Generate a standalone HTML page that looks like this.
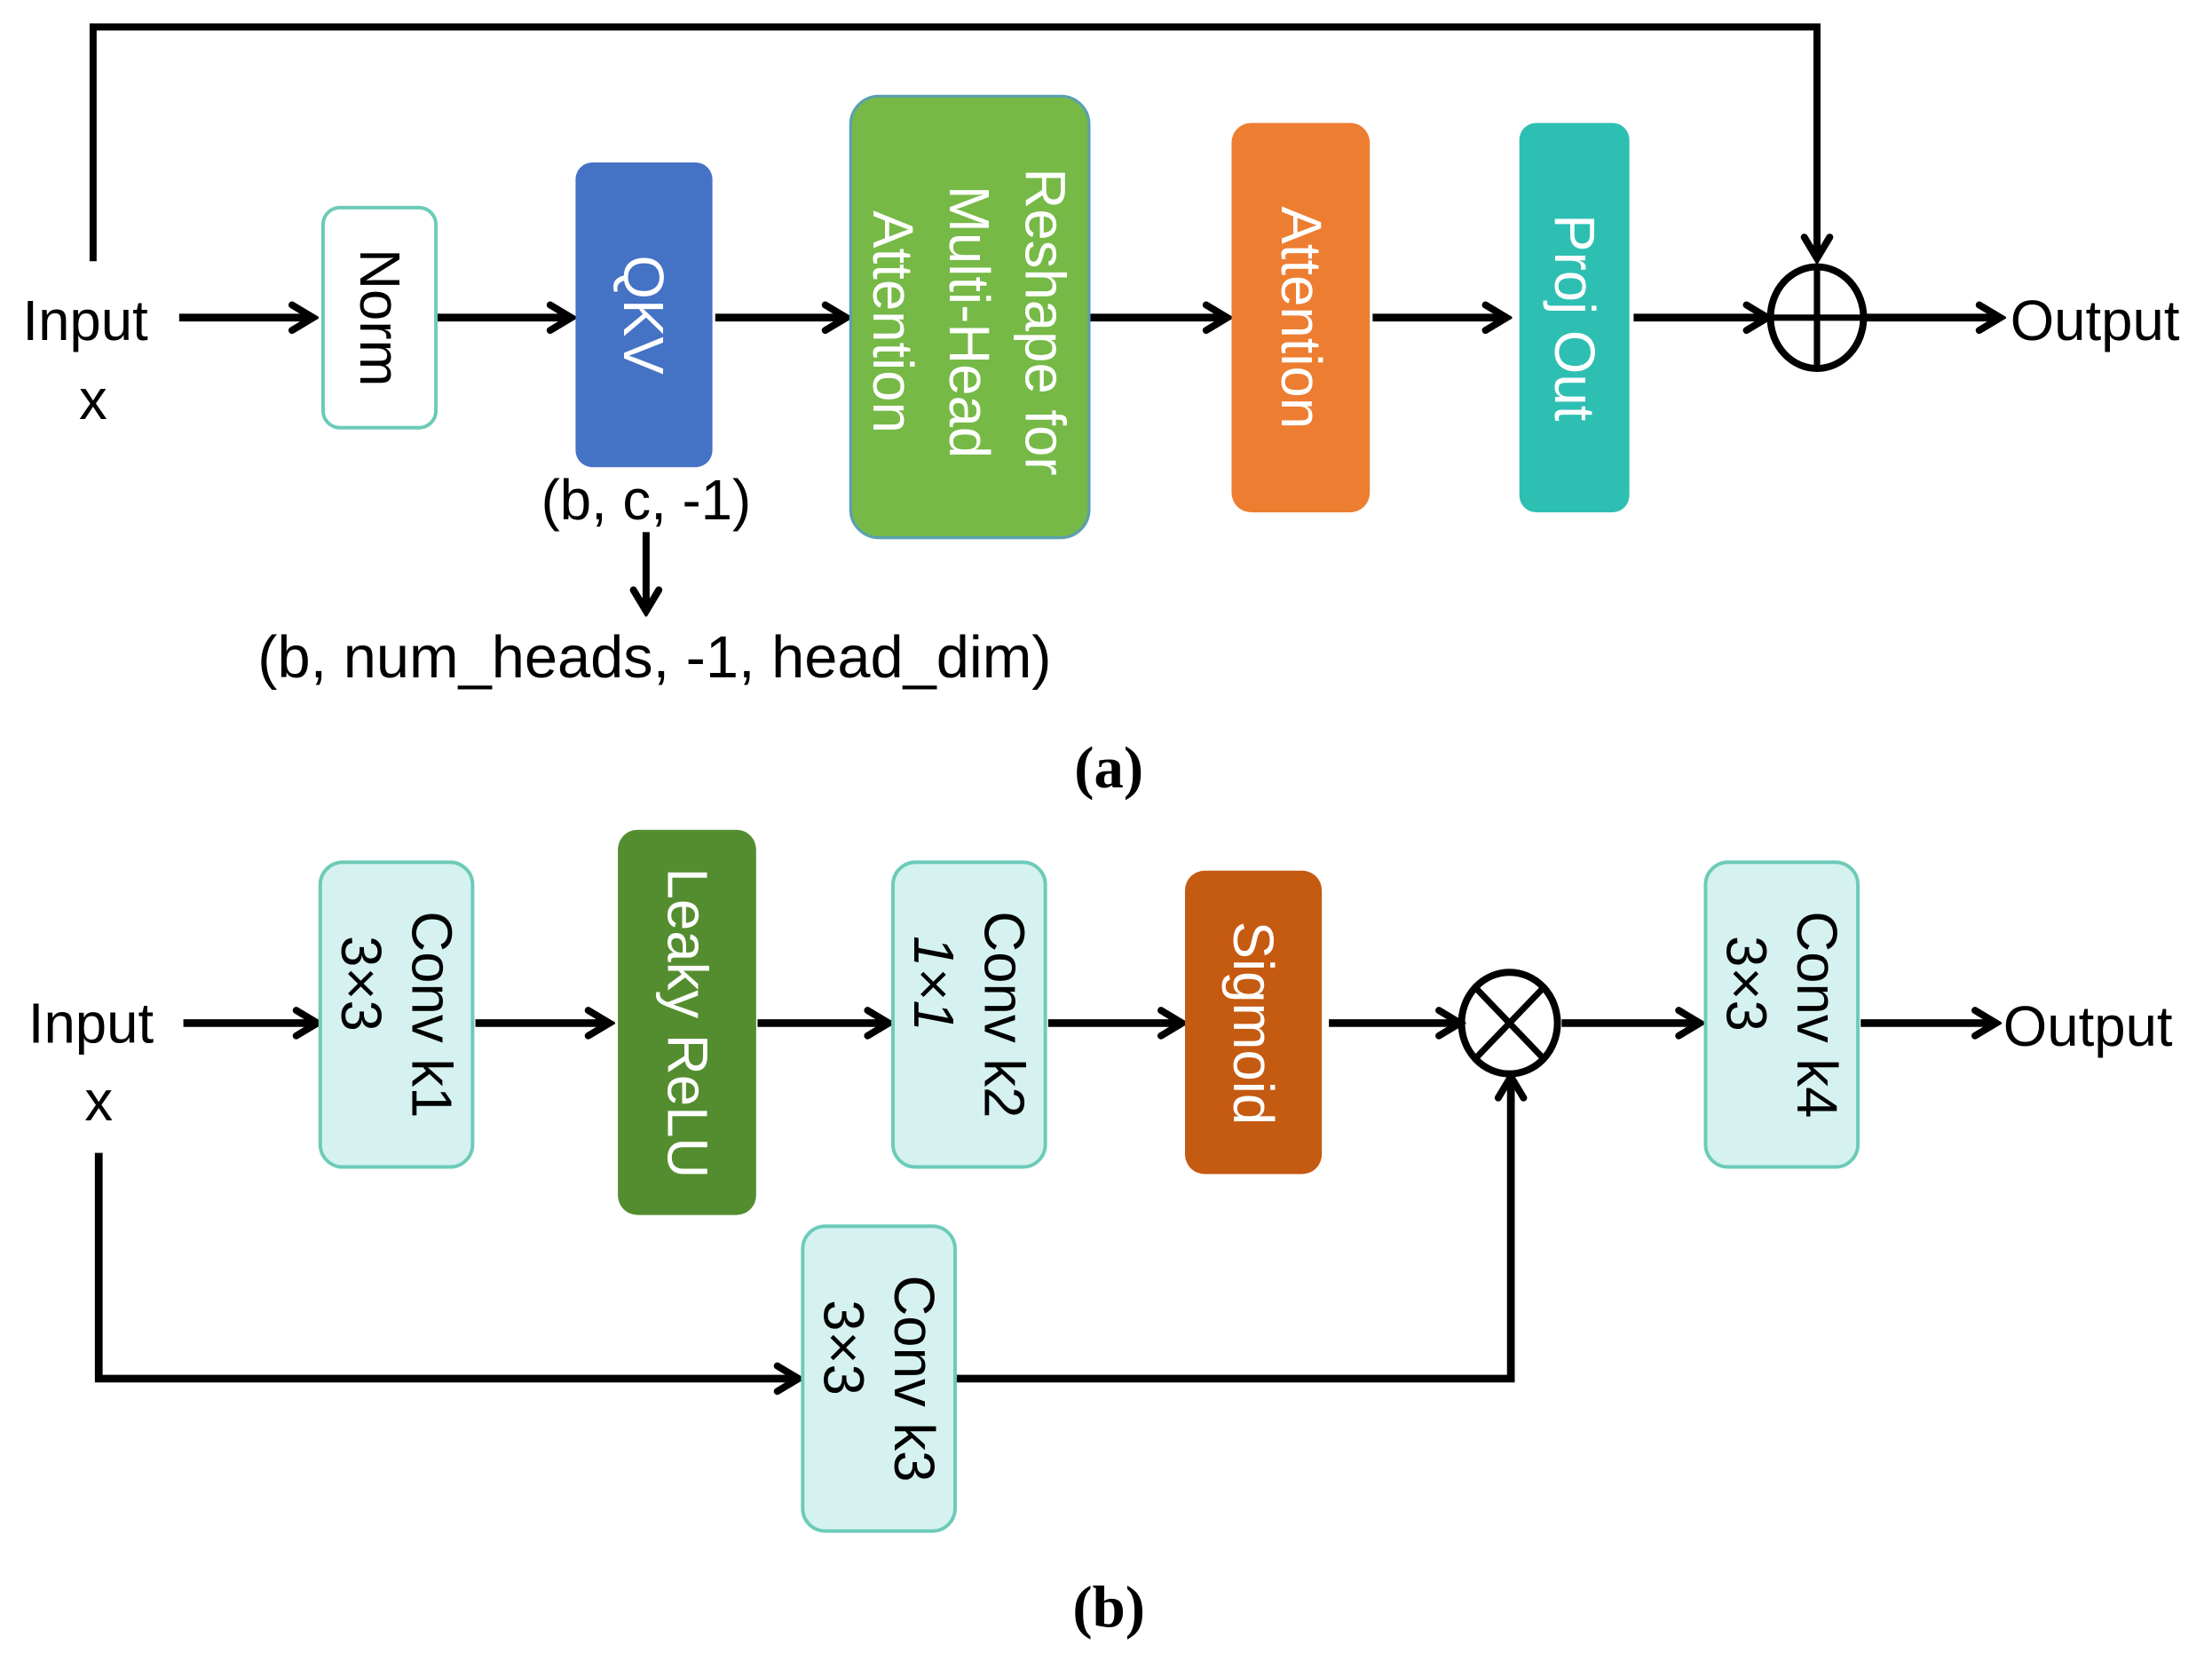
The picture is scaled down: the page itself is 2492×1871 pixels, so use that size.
<!DOCTYPE html>
<html><head><meta charset="utf-8"><style>
html,body{margin:0;padding:0;background:#fff;}
svg{display:block;}
</style></head><body>
<svg width="2492" height="1871" viewBox="0 0 1568 1177" xmlns="http://www.w3.org/2000/svg" font-family="Liberation Sans, sans-serif">
<defs>
<marker id="ah" viewBox="0 0 24 24" refX="20" refY="12" markerWidth="24" markerHeight="24" markerUnits="userSpaceOnUse" orient="auto">
<path d="M5,3 L20,12 L5,21" fill="none" stroke="#000" stroke-width="5" stroke-linecap="round" stroke-linejoin="miter"/>
</marker>
</defs>
<g stroke="#000" stroke-width="5.5" fill="none">
<polyline points="66,185 66,19 1288,19 1288,183" marker-end="url(#ah)" stroke-width="5"/>
<line x1="127" y1="225" x2="222" y2="225" marker-end="url(#ah)"/>
<line x1="310" y1="225" x2="405" y2="225" marker-end="url(#ah)"/>
<line x1="507" y1="225" x2="600" y2="225" marker-end="url(#ah)"/>
<line x1="773" y1="225" x2="870" y2="225" marker-end="url(#ah)"/>
<line x1="973" y1="225" x2="1068" y2="225" marker-end="url(#ah)"/>
<line x1="1158" y1="225" x2="1253" y2="225" marker-end="url(#ah)"/>
<line x1="1322" y1="225" x2="1418" y2="225" marker-end="url(#ah)"/>
<line x1="458" y1="377" x2="458" y2="433" marker-end="url(#ah)" stroke-width="5"/>
<line x1="130" y1="725" x2="225" y2="725" marker-end="url(#ah)"/>
<line x1="337" y1="725" x2="432" y2="725" marker-end="url(#ah)"/>
<line x1="537" y1="725" x2="630" y2="725" marker-end="url(#ah)"/>
<line x1="743" y1="725" x2="838" y2="725" marker-end="url(#ah)"/>
<line x1="942" y1="725" x2="1035" y2="725" marker-end="url(#ah)"/>
<line x1="1107" y1="725" x2="1205" y2="725" marker-end="url(#ah)"/>
<line x1="1319" y1="725" x2="1415" y2="725" marker-end="url(#ah)"/>
<polyline points="70,817 70,977 566,977" marker-end="url(#ah)"/>
<polyline points="678,977 1071,977 1071,763" marker-end="url(#ah)"/>
</g>
<rect x="229" y="147" width="80" height="156" rx="12" fill="#fff" stroke="#6ccbb8" stroke-width="2.5"/>
<rect x="408" y="115" width="97" height="216" rx="12" fill="#4472C4"/>
<rect x="603" y="68" width="169" height="313" rx="20" fill="#76B947" stroke="#5aa0b0" stroke-width="2"/>
<rect x="873" y="87" width="98" height="276" rx="14" fill="#ED7D31"/>
<rect x="1077" y="87" width="78" height="276" rx="12" fill="#2EBFB3"/>
<ellipse cx="1288" cy="225" rx="33" ry="36" fill="none" stroke="#000" stroke-width="5"/>
<line x1="1288" y1="189" x2="1288" y2="261" stroke="#000" stroke-width="4.5"/>
<line x1="1255" y1="225" x2="1321" y2="225" stroke="#000" stroke-width="4.5"/>
<g font-size="40" text-anchor="middle" dominant-baseline="central">
<text transform="translate(269,225) rotate(90)" fill="#000">Norm</text>
<text transform="translate(456,223) rotate(90)" fill="#fff">QKV</text>
<text transform="translate(687,228) rotate(90)" fill="#fff"><tspan x="0" y="-54">Reshape for</tspan><tspan x="0" y="0">Multi-Head</tspan><tspan x="0" y="54">Attention</tspan></text>
<text transform="translate(922,225) rotate(90)" fill="#fff">Attention</text>
<text transform="translate(1116,225) rotate(90)" fill="#fff">Proj Out</text>
</g>
<g font-size="40" fill="#000">
<text x="16" y="241">Input</text>
<text x="66" y="297" text-anchor="middle">x</text>
<text x="1425" y="241">Output</text>
<text x="458" y="368" text-anchor="middle">(b, c, -1)</text>
<text x="464" y="480" text-anchor="middle" font-size="42">(b, num_heads, -1, head_dim)</text>
</g>
<text x="786" y="558" style="font-family:'Liberation Serif',serif" font-size="42" text-anchor="middle" font-weight="bold">(a)</text>
<g fill="#D5F2F0" stroke="#6ccbb8" stroke-width="2.5">
<rect x="227" y="611" width="108" height="216" rx="16"/>
<rect x="633" y="611" width="108" height="216" rx="16"/>
<rect x="1209" y="611" width="108" height="216" rx="16"/>
<rect x="569" y="869" width="108" height="216" rx="16"/>
</g>
<rect x="438" y="588" width="98" height="273" rx="14" fill="#548D2F"/>
<rect x="840" y="617" width="97" height="215" rx="14" fill="#C55A11"/>
<ellipse cx="1070" cy="725" rx="34" ry="36" fill="none" stroke="#000" stroke-width="5"/>
<line x1="1046" y1="700" x2="1094" y2="750" stroke="#000" stroke-width="4.5"/>
<line x1="1094" y1="700" x2="1046" y2="750" stroke="#000" stroke-width="4.5"/>
<g font-size="40" text-anchor="middle" dominant-baseline="central">
<text transform="translate(281,719) rotate(90)" fill="#000"><tspan x="0" y="-25">Conv k1</tspan><tspan x="-22" y="25">3×3</tspan></text>
<text transform="translate(687,719) rotate(90)" fill="#000"><tspan x="0" y="-25">Conv k2</tspan><tspan x="-22" y="25" font-style="italic">1×1</tspan></text>
<text transform="translate(1263,719) rotate(90)" fill="#000"><tspan x="0" y="-25">Conv k4</tspan><tspan x="-22" y="25">3×3</tspan></text>
<text transform="translate(623,977) rotate(90)" fill="#000"><tspan x="0" y="-25">Conv k3</tspan><tspan x="-22" y="25">3×3</tspan></text>
<text transform="translate(487,725) rotate(90)" fill="#fff">Leaky ReLU</text>
<text transform="translate(888,725) rotate(90)" fill="#fff">Sigmoid</text>
</g>
<g font-size="40" fill="#000">
<text x="20" y="739">Input</text>
<text x="70" y="794" text-anchor="middle">x</text>
<text x="1420" y="741">Output</text>
</g>
<text x="786" y="1153" style="font-family:'Liberation Serif',serif" font-size="42" text-anchor="middle" font-weight="bold">(b)</text>
</svg>
</body></html>
